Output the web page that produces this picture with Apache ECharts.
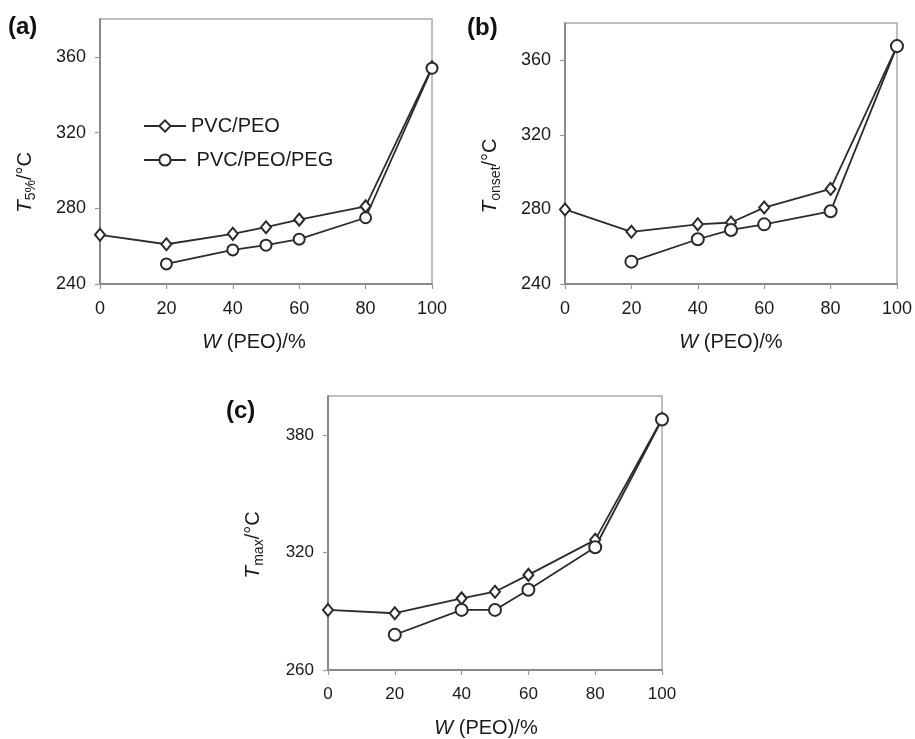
<!DOCTYPE html>
<html>
<head>
<meta charset="utf-8">
<script src="https://cdn.jsdelivr.net/npm/echarts@6/dist/echarts.min.js"></script>
<style>
  html, body { margin: 0; padding: 0; background: #fff; }
  #chart { width: 915px; height: 739px; }
</style>
</head>
<body>
<div id="chart"></div>
<script>
// W(PEO) in %, PEG blends start at 20
const wPEO = [0, 20, 40, 50, 60, 80, 100];
const wPEG = [20, 40, 50, 60, 80, 100];

// (a) T5%
const t5PVC_PEO = [266, 261, 266.5, 270, 274, 281, 354.5];
const t5PVC_PEO_PEG = [250.6, 258, 260.5, 263.7, 275, 354];
// (b) Tonset
const tOnsetPVC_PEO = [280, 268, 272, 273, 281, 291, 367.6];
const tOnsetPVC_PEO_PEG = [252, 264, 269, 272, 279, 367.6];
// (c) Tmax
const tMaxPVC_PEO = [290.7, 289, 296.6, 300, 308.6, 326.5, 388.3];
const tMaxPVC_PEO_PEG = [278, 290.7, 290.7, 301, 322.7, 388];

const xTicks = { min: 0, max: 100, interval: 20 };
const yRanges = [
  { min: 240, max: 380, interval: 40 },
  { min: 240, max: 380, interval: 40 },
  { min: 260, max: 400, interval: 60 }
];
const yNames = [
  '{i|T}{sub|5%}/°C',
  '{i|T}{sub|onset}/°C',
  '{i|T}{sub|max}/°C'
];
const panelLabels = ['(a)', '(b)', '(c)'];

const font = '"Liberation Sans", Arial, Helvetica, sans-serif';
const ink = '#1a1a1a';
const lineColor = '#2b2b2b';

function pairs(xs, ys) {
  return xs.map((x, i) => [x, ys[i]]);
}

const chart = echarts.init(document.getElementById('chart'));

const grids = [
  { left: 100, top: 19, width: 332, height: 265 },
  { left: 565, top: 23, width: 336, height: 261 },
  { left: 328, top: 396, width: 334, height: 274 }
];
const labelSizes = [18, 18, 17];
const xNamePad = [[0, 24, 0, 0], [0, 0, 0, 0], [0, 18, 0, 0]];
const yNamePad = [[0, 62, 0, 0], [0, 45, 0, 0], [0, 24, 0, 0]];

const xAxes = grids.map((g, i) => ({
  type: 'value',
  gridIndex: i,
  min: xTicks.min,
  max: xTicks.max,
  interval: xTicks.interval,
  name: '{i|W} (PEO)/%',
  nameLocation: 'middle',
  nameGap: 48,
  nameTextStyle: {
    fontFamily: font, fontSize: 20, color: ink, padding: xNamePad[i],
    rich: { i: { fontFamily: font, fontSize: 20, fontStyle: 'italic', color: ink } }
  },
  axisLine: { lineStyle: { color: '#777', width: 1.5 } },
  axisTick: { show: true, length: 5, lineStyle: { color: '#999', width: 1.2 } },
  axisLabel: { fontFamily: font, fontSize: labelSizes[i], color: ink, margin: 16 },
  splitLine: { show: false }
}));

const yAxes = grids.map((g, i) => ({
  type: 'value',
  gridIndex: i,
  min: yRanges[i].min,
  max: yRanges[i].max,
  interval: yRanges[i].interval,
  name: yNames[i],
  nameLocation: 'middle',
  nameGap: 62,
  nameRotate: 90,
  nameTextStyle: {
    fontFamily: font, fontSize: 20, color: ink, padding: yNamePad[i],
    rich: {
      i: { fontFamily: font, fontSize: 21, fontStyle: 'italic', color: ink, lineHeight: 26 },
      sub: { fontFamily: font, fontSize: 14, color: ink, verticalAlign: 'bottom', lineHeight: 26 }
    }
  },
  axisLine: { show: true, lineStyle: { color: '#777', width: 1.5 } },
  axisTick: { show: true, length: 5, lineStyle: { color: '#999', width: 1.2 } },
  axisLabel: { fontFamily: font, fontSize: labelSizes[i], color: ink, margin: 14, showMaxLabel: false },
  splitLine: { show: false }
}));

function makeSeries(name, data, idx, symbol, size) {
  return {
    name: name,
    type: 'line',
    xAxisIndex: idx,
    yAxisIndex: idx,
    data: data,
    symbol: symbol,
    symbolSize: size,
    showAllSymbol: true,
    lineStyle: { color: lineColor, width: 1.8 },
    itemStyle: { color: lineColor, borderColor: lineColor, borderWidth: 1.5 },
    emphasis: { disabled: true },
    animation: false
  };
}

const series = [
  makeSeries('PVC/PEO', pairs(wPEO, t5PVC_PEO), 0, 'emptyDiamond', [10, 12]),
  makeSeries('PVC/PEO/PEG', pairs(wPEG, t5PVC_PEO_PEG), 0, 'emptyCircle', 11),
  makeSeries('PVC/PEO', pairs(wPEO, tOnsetPVC_PEO), 1, 'emptyDiamond', [10, 12]),
  makeSeries('PVC/PEO/PEG', pairs(wPEG, tOnsetPVC_PEO_PEG), 1, 'emptyCircle', 12),
  makeSeries('PVC/PEO', pairs(wPEO, tMaxPVC_PEO), 2, 'emptyDiamond', [10, 12]),
  makeSeries('PVC/PEO/PEG', pairs(wPEG, tMaxPVC_PEO_PEG), 2, 'emptyCircle', 12)
];

const option = {
  backgroundColor: '#fff',
  animation: false,
  title: [
    { text: panelLabels[0], left: 8, top: 15 },
    { text: panelLabels[1], left: 467, top: 16 },
    { text: panelLabels[2], left: 226, top: 399 }
  ].map(t => Object.assign(t, {
    padding: 0,
    textStyle: { fontFamily: font, fontSize: 24, fontWeight: 'bold', color: '#111' }
  })),
  legend: {
    data: ['PVC/PEO', 'PVC/PEO/PEG'],
    orient: 'vertical',
    left: 143,
    top: 116,
    itemWidth: 42,
    itemHeight: 14,
    itemGap: 14,
    padding: 0,
    formatter: name => name === 'PVC/PEO/PEG' ? ' ' + name : name,
    textStyle: { fontFamily: font, fontSize: 20, color: ink }
  },
  grid: grids.map(g => Object.assign({}, g, {
    show: true,
    borderColor: '#aaa',
    borderWidth: 1.5,
    backgroundColor: 'transparent'
  })),
  xAxis: xAxes,
  yAxis: yAxes,
  series: series
};

option && chart.setOption(option);
</script>
</body>
</html>
